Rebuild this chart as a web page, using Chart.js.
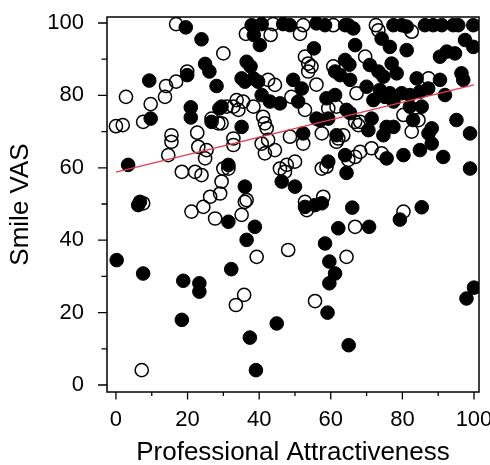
<!DOCTYPE html>
<html>
<head>
<meta charset="utf-8">
<title>Smile VAS vs Professional Attractiveness</title>
<script src="https://cdn.jsdelivr.net/npm/chart.js@4.4.1/dist/chart.umd.min.js"></script>
<style>
  html, body { margin: 0; padding: 0; background: #fff; }
  #wrap { width: 490px; height: 465px; }
</style>
</head>
<body>
<div id="wrap"><canvas id="smileChart" width="490" height="465"></canvas></div>
<script>
// ===== Data =====
// Filled markers
const filledX = [19.5, 23.9, 24.9, 26.1, 19.9, 9.3, 28.1, 20.9, 20.9, 9.7, 26.7, 28.9,
  37.9, 40.7, 46.7, 48.6, 56.0, 58.4, 64.0, 38.5, 40.2, 55.3, 36.5, 37.6, 64.0, 61.2, 35.1, 38.4, 36.0, 39.7,
  49.5, 51.9, 62.6, 40.7, 43.0, 45.8, 29.5, 50.9, 58.8, 61.2, 56.0, 57.0, 59.3, 35.1, 52.3, 61.6,
  64.9, 66.3, 77.5, 79.8, 81.2, 86.3, 88.6, 91.0, 94.2, 95.6, 99.8, 74.2, 66.8, 76.5, 81.2, 90.5, 92.4, 94.7,
  97.5, 99.8, 65.2, 70.9, 77.0, 73.3, 74.7, 78.4, 84.0, 90.5, 96.5, 97.0, 65.4, 70.0, 73.7, 75.1, 76.5, 79.8,
  82.1, 84.9, 87.2, 91.9, 71.9, 77.5, 82.1, 85.4, 64.4, 65.4, 71.4, 83.0, 95.1, 70.5, 75.6, 77.5, 88.2, 98.9,
  3.4, 6.2, 6.7, 31.4, 0.2, 31.4,
  59.3, 64.0, 46.3, 50.0, 36.0, 38.8, 36.5, 52.8, 55.6, 57.5, 62.1, 66.0, 58.4,
  98.9, 91.4, 84.9, 80.3, 75.6, 88.2, 87.3, 74.7, 64.4, 70.7, 79.3, 85.4,
  7.6, 18.8, 23.3, 23.3, 18.4, 32.2,
  44.9, 37.4, 39.1, 59.6, 61.2, 59.6, 59.1, 65.0, 97.9, 100.0];
const filledY = [98.8, 95.5, 88.7, 86.6, 85.6, 84.1, 82.6, 76.7, 73.9, 73.6, 72.7, 76.4,
  99.4, 99.7, 99.7, 99.4, 99.9, 99.4, 99.4, 96.7, 93.9, 93.0, 89.3, 88.0, 89.8, 86.6, 84.7, 84.7, 83.8, 83.8,
  84.3, 81.9, 85.6, 80.1, 78.3, 77.8, 76.9, 78.3, 79.2, 80.1, 73.6, 73.1, 73.6, 71.3, 69.5, 69.0,
  99.4, 98.5, 99.4, 99.4, 99.0, 99.4, 99.4, 99.4, 99.4, 99.4, 99.4, 95.7, 93.9, 93.4, 92.5, 90.7, 92.1, 91.6,
  95.3, 93.4, 88.5, 88.4, 88.8, 86.6, 85.2, 86.1, 84.7, 84.3, 86.1, 84.3, 84.3, 82.4, 81.5, 79.6, 80.6, 80.6,
  80.1, 81.0, 81.9, 80.1, 78.7, 78.3, 76.9, 76.9, 76.0, 75.1, 73.6, 73.2, 73.2, 70.4, 71.3, 71.3, 70.9, 69.5,
  60.8, 49.7, 50.6, 45.1, 34.5, 60.8,
  61.7, 63.5, 56.2, 54.8, 54.8, 43.7, 40.1, 49.2, 49.7, 50.2, 43.3, 49.0, 39.1,
  59.8, 63.0, 64.9, 63.5, 62.6, 66.7, 69.5, 69.0, 58.6, 43.7, 45.7, 49.1,
  30.8, 28.8, 28.1, 25.8, 18.0, 32.0,
  17.0, 13.1, 4.1, 34.1, 30.8, 28.1, 20.0, 11.0, 23.9, 26.9];

// Open markers
const openX = [16.8, 30.0, 19.9, 16.8, 14.0, 13.7, 2.8, 9.7, 7.6, 0.0, 1.9, 26.7, 28.6, 30.9, 15.5, 22.7,
  43.9, 52.3, 60.7, 36.3, 43.2, 51.4, 52.8, 53.7, 54.6, 53.7, 60.7, 42.5, 44.4, 56.0, 33.7, 35.5, 32.8, 34.2,
  38.4, 49.0, 52.8, 59.3, 61.6, 41.1, 41.6, 42.1, 29.5, 32.8, 48.6,
  72.6, 73.3, 82.6, 69.6, 87.3, 67.2, 68.2, 66.8, 67.7, 80.3, 84.5, 82.6, 63.5,
  14.6, 15.5, 23.0, 25.3, 24.9, 18.4, 22.1, 23.9, 30.0, 31.4, 29.5, 29.1, 26.3, 24.4, 21.1, 27.7, 7.6,
  32.8, 40.7, 42.5, 44.4, 41.6, 52.3, 57.5, 61.6, 62.1, 57.5, 58.8, 45.8, 47.7, 50.0, 47.2, 36.5, 36.0, 35.1,
  52.8, 53.3, 57.9, 48.1, 39.3,
  71.4, 68.2, 66.8, 64.9, 74.2, 66.8, 80.3, 64.4,
  7.2, 35.8, 33.5, 55.6];
const openY = [99.7, 91.6, 86.6, 83.8, 82.6, 79.6, 79.6, 77.6, 72.7, 71.5, 71.8, 73.6, 72.3, 76.9, 69.0, 69.7,
  99.7, 99.4, 99.4, 97.0, 96.7, 97.0, 90.7, 88.8, 88.0, 86.6, 88.0, 84.3, 82.9, 83.0, 78.7, 78.3, 76.9, 76.0,
  76.9, 79.6, 76.0, 76.4, 76.9, 74.1, 72.3, 70.9, 72.3, 68.1, 68.6,
  99.4, 98.0, 97.6, 90.7, 84.7, 80.6, 72.7, 72.7, 71.8, 74.6, 73.2, 70.0, 69.0,
  63.5, 67.2, 65.8, 64.9, 62.6, 58.9, 58.9, 58.0, 59.8, 59.8, 56.2, 52.9, 52.0, 49.2, 47.9, 46.0, 50.2,
  66.3, 66.7, 67.7, 64.9, 64.0, 66.7, 69.5, 67.2, 68.1, 59.8, 60.3, 59.8, 60.8, 61.7, 58.9, 51.1, 50.6, 47.0,
  50.6, 48.3, 52.0, 37.3, 35.4,
  65.4, 64.4, 63.0, 62.2, 64.0, 43.7, 47.9, 35.4,
  4.1, 24.9, 22.1, 23.2];

// Regression line end points
const fitX = [0, 100];
const fitY = [58.8, 82.9];

// Axis ticks (labelled and unlabelled)
const majorTicks = [0, 20, 40, 60, 80, 100];
const minorTicks = [10, 30, 50, 70, 90];

const FONT = "'Liberation Sans', Arial, Helvetica, sans-serif";

function toPoints(xs, ys) {
  return xs.map(function (x, i) {
    return { x: x, y: ys[i] };
  });
}

// Frame around the plot area plus outward tick marks
const frameAndTicks = {
  id: "frameAndTicks",
  afterDraw: function (chart) {
    const ctx = chart.ctx;
    const area = chart.chartArea;
    const xs = chart.scales.x;
    const ys = chart.scales.y;

    ctx.save();
    ctx.strokeStyle = "#000";
    ctx.lineWidth = 1.5;
    ctx.strokeRect(area.left, area.top, area.right - area.left, area.bottom - area.top);

    ctx.lineWidth = 1.3;
    ctx.beginPath();
    majorTicks.concat(minorTicks).forEach(function (v) {
      const major = majorTicks.indexOf(v) !== -1;
      const px = xs.getPixelForValue(v);
      ctx.moveTo(px, area.bottom);
      ctx.lineTo(px, area.bottom + (major ? 7.5 : 4));
      const py = ys.getPixelForValue(v);
      ctx.moveTo(area.left, py);
      ctx.lineTo(area.left - (major ? 9 : 5.5), py);
    });
    ctx.stroke();
    ctx.restore();
  },
};

function tickValues(scale) {
  scale.ticks = majorTicks.concat(minorTicks).sort(function (a, b) { return a - b; })
    .map(function (v) { return { value: v }; });
}

function tickLabel(value) {
  return majorTicks.indexOf(value) !== -1 ? String(value) : "";
}

document.addEventListener("DOMContentLoaded", function () {
  const el = document.getElementById("smileChart");

  new Chart(el, {
    type: "scatter",
    data: {
      datasets: [
        {
          label: "Fit",
          type: "line",
          data: toPoints(fitX, fitY),
          borderColor: "#e63a52",
          borderWidth: 1.4,
          pointRadius: 0,
          fill: false,
          order: 0,
        },
        {
          label: "Filled",
          data: toPoints(filledX, filledY),
          backgroundColor: "#000",
          borderColor: "#000",
          borderWidth: 1,
          pointRadius: 6.8,
          order: 1,
        },
        {
          label: "Open",
          data: toPoints(openX, openY),
          backgroundColor: "rgba(0,0,0,0)",
          borderColor: "#000",
          borderWidth: 1.5,
          pointRadius: 6.6,
          order: 2,
        },
      ],
    },
    options: {
      responsive: false,
      animation: false,
      devicePixelRatio: 1,
      layout: { padding: { left: 0, top: 17, right: 11, bottom: 0 } },
      plugins: {
        legend: { display: false },
        tooltip: { enabled: false },
      },
      scales: {
        x: {
          type: "linear",
          min: -2.5,
          max: 101.4,
          afterBuildTicks: tickValues,
          afterFit: function (scale) {
            scale.height = 73;
            scale.paddingLeft = 0;
            scale.paddingRight = 0;
          },
          grid: { display: false, drawTicks: false },
          border: { display: false },
          ticks: {
            autoSkip: false,
            maxRotation: 0,
            padding: 17,
            color: "#000",
            font: { family: FONT, size: 22, lineHeight: 1 },
            callback: tickLabel,
          },
          title: {
            display: true,
            text: "Professional Attractiveness",
            color: "#000",
            padding: 0,
            font: { family: FONT, size: 26, lineHeight: 0.9 },
          },
        },
        y: {
          type: "linear",
          min: -1.93,
          max: 101.66,
          afterBuildTicks: tickValues,
          afterFit: function (scale) {
            scale.width = 107;
            scale.paddingTop = 0;
            scale.paddingBottom = 0;
          },
          grid: { display: false, drawTicks: false },
          border: { display: false },
          ticks: {
            autoSkip: false,
            padding: 23,
            color: "#000",
            font: { family: FONT, size: 22, lineHeight: 1 },
            callback: tickLabel,
          },
          title: {
            display: true,
            text: "Smile VAS",
            color: "#000",
            padding: { top: 8, bottom: 0 },
            font: { family: FONT, size: 26, lineHeight: 1 },
          },
        },
      },
    },
    plugins: [frameAndTicks],
  });
});
</script>
</body>
</html>
